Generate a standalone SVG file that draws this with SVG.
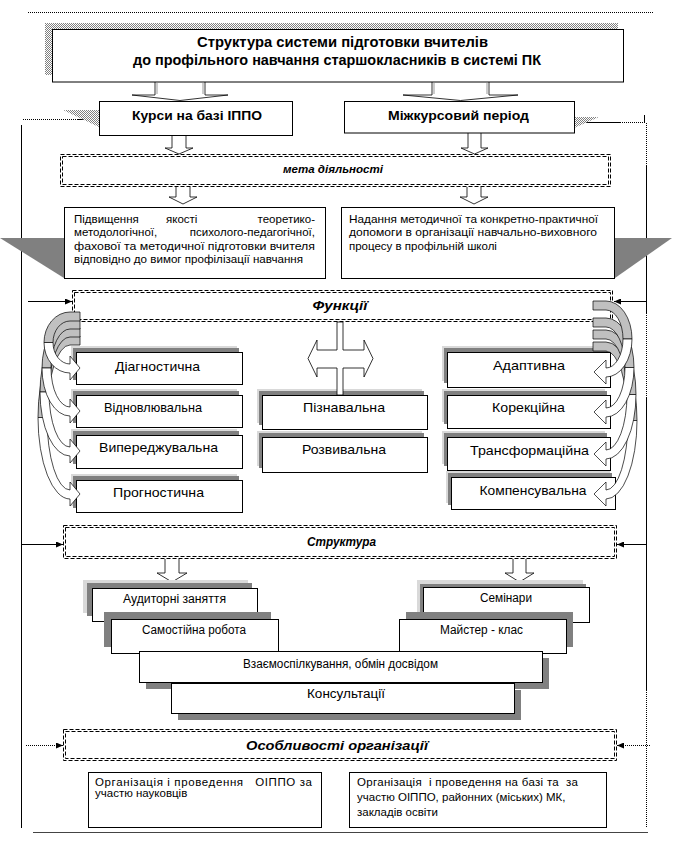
<svg xmlns="http://www.w3.org/2000/svg" width="681" height="847" viewBox="0 0 681 847">
<style>
.t{font-family:"Liberation Sans",Arial,sans-serif;fill:#000}
.b{font-weight:bold}
.bi{font-weight:bold;font-style:italic}
.f13{font-size:13px}
.f12{font-size:12px}
.f11{font-size:11.5px}
.box{fill:#fff;stroke:#000;stroke-width:1}
.dg{fill:#808080}
.lg{fill:#d9d9d9}
.dash{fill:none;stroke:#000;stroke-width:1;stroke-dasharray:4 2}
.ln{stroke:#000;stroke-width:1;fill:none}
.dot{stroke:#000;stroke-width:1;fill:none;stroke-dasharray:1 1}
.arr{fill:#fff;stroke:#000;stroke-width:0.8}
.cg{fill:#c0c0c0;stroke:#000;stroke-width:0.7}
.cw{fill:#fff;stroke:#000;stroke-width:0.7}
.tri{fill:#808080}
</style>
<defs>
<pattern id="hatch" width="2" height="2" patternUnits="userSpaceOnUse">
<rect width="2" height="2" fill="#fff"/>
<rect width="1" height="1" fill="#808080"/>
<rect x="1" y="1" width="1" height="1" fill="#808080"/>
</pattern>
<marker id="ah" markerWidth="7" markerHeight="6" refX="7" refY="3" orient="auto" markerUnits="userSpaceOnUse">
<path d="M0,0 L7,3 L0,6 Z" fill="#000"/>
</marker>
</defs>

<g id="connectors">
<line class="dot" x1="28" y1="12.5" x2="653" y2="12.5"/>
<line class="dot" x1="23" y1="119.5" x2="77" y2="119.5"/>
<line class="ln" x1="77" y1="119.5" x2="99" y2="119.5"/>
<line class="ln" x1="21.5" y1="125" x2="21.5" y2="828"/>
<line class="ln" x1="578" y1="122.5" x2="620" y2="122.5"/>
<line class="dot" x1="620" y1="122.5" x2="644" y2="122.5"/>
<line class="ln" x1="644.5" y1="115" x2="644.5" y2="123"/>
<line class="dot" x1="646.5" y1="123" x2="646.5" y2="165"/>
<line class="ln" x1="646.5" y1="165" x2="646.5" y2="313"/>
<line class="dot" x1="646.5" y1="313" x2="646.5" y2="398"/>
<line class="ln" x1="646.5" y1="398" x2="646.5" y2="690"/>
<line class="dot" x1="646.5" y1="690" x2="646.5" y2="828"/>
<line x1="33" y1="832.5" x2="648" y2="832.5" stroke="#444" stroke-width="1"/>
<line class="ln" x1="28" y1="301.5" x2="72" y2="301.5" marker-end="url(#ah)"/>
<line class="ln" x1="647" y1="301.5" x2="614" y2="301.5" marker-end="url(#ah)"/>
<line class="ln" x1="22" y1="544.5" x2="63" y2="544.5" marker-end="url(#ah)"/>
<line class="ln" x1="647" y1="544.5" x2="617" y2="544.5" marker-end="url(#ah)"/>
<line class="dot" x1="26" y1="745.5" x2="63" y2="745.5" marker-end="url(#ah)"/>
<line class="dot" x1="650" y1="745.5" x2="617" y2="745.5" marker-end="url(#ah)"/>
<path class="arr" d="M155,82 L155,95 L132,95 L180,100.5 L228,95 L205,95 L205,82"/>
<path class="arr" d="M432,82 L432,95 L403,95 L460.5,100.5 L518,95 L489,95 L489,82"/>
<line x1="157" y1="83" x2="157" y2="94" stroke="#999"/>
<line x1="203" y1="83" x2="203" y2="94" stroke="#999"/>
<line x1="434" y1="83" x2="434" y2="94" stroke="#999"/>
<line x1="487" y1="83" x2="487" y2="94" stroke="#999"/>
<path class="arr" d="M172,136 L172,148 L165,148 L179,154 L193,148 L186,148 L186,136"/>
<path class="arr" d="M468,133 L468,148 L461,148 L474.5,154 L488,148 L481,148 L481,133"/>
<path class="arr" d="M176,187 L176,197 L169,197 L183,204 L197,197 L190,197 L190,187"/>
<path class="arr" d="M467,187 L467,197 L460,197 L474,204 L488,197 L481,197 L481,187"/>
<path class="arr" d="M165,559 L165,573 L157,573 L172,582 L187,573 L179,573 L179,559"/>
<path class="arr" d="M513,559 L513,573 L505,573 L519.5,582 L534,573 L526,573 L526,559"/>
</g>

<g id="title">
<rect x="45" y="23" width="573" height="52" fill="url(#hatch)"/>
<rect class="box" x="52.5" y="29.5" width="571" height="52.5"/>
<text class="t b" font-size="14" x="342.5" y="47" text-anchor="middle" textLength="291" lengthAdjust="spacingAndGlyphs">Структура системи підготовки вчителів</text>
<text class="t b" font-size="14" x="337" y="65" text-anchor="middle" textLength="408" lengthAdjust="spacingAndGlyphs">до профільного навчання старшокласників в системі ПК</text>
</g>

<g id="kursy">
<polygon points="63,110 99,110 99,127" fill="url(#hatch)"/>
<rect class="box" x="99.5" y="101.5" width="193" height="34"/>
<text class="t b" font-size="13.5" x="197" y="120" text-anchor="middle" textLength="130" lengthAdjust="spacingAndGlyphs">Курси на базі ІППО</text>
</g>

<g id="mizhkurs">
<polygon points="574,117 599,117 574,128" fill="url(#hatch)"/>
<rect class="box" x="344.5" y="101.5" width="230" height="31.5"/>
<text class="t b" font-size="13.5" x="458.5" y="120" text-anchor="middle" textLength="141" lengthAdjust="spacingAndGlyphs">Міжкурсовий період</text>
</g>

<g id="meta">
<rect class="dash" x="60.5" y="154.5" width="550" height="32"/>
<rect class="dash" x="62.5" y="156.5" width="546" height="28"/>
<text class="t bi" font-size="11.5" x="333" y="173" text-anchor="middle" textLength="100" lengthAdjust="spacingAndGlyphs">мета діяльності</text>
</g>

<g id="triangles">
<polygon class="tri" points="0,238 64,238 64,278"/>
<polygon class="tri" points="615,238 672,238 615,278"/>
</g>

<g id="meta-left">
<rect class="box" x="64.5" y="207.5" width="261" height="71"/>
<text class="t f11" x="74" y="223">Підвищення</text>
<text class="t f11" x="166" y="223">якості</text>
<text class="t f11" x="315" y="223" text-anchor="end">теоретико-</text>
<text class="t f11" x="74" y="236">методологічної,</text>
<text class="t f11" x="315" y="236" text-anchor="end">психолого-педагогічної,</text>
<text class="t f11" x="74" y="250" textLength="241" lengthAdjust="spacingAndGlyphs">фахової та методичної підготовки вчителя</text>
<text class="t f11" x="74" y="263" textLength="229" lengthAdjust="spacingAndGlyphs">відповідно до вимог профілізації навчання</text>
</g>

<g id="meta-right">
<rect class="box" x="341.5" y="207.5" width="273" height="71"/>
<text class="t f11" x="349" y="223" textLength="249" lengthAdjust="spacingAndGlyphs">Надання методичної та конкретно-практичної</text>
<text class="t f11" x="349" y="236" textLength="248" lengthAdjust="spacingAndGlyphs">допомоги в організації навчально-виховного</text>
<text class="t f11" x="349" y="250">процесу в профільній школі</text>
</g>

<g id="funktsii">
<rect class="dash" x="72.5" y="290.5" width="540" height="31"/>
<rect class="dash" x="74.5" y="292.5" width="536" height="27"/>
<text class="t bi" font-size="12" x="340" y="310" text-anchor="middle" textLength="55" lengthAdjust="spacingAndGlyphs">Функції</text>
</g>

<g id="diagnostychna">
<rect class="lg" x="71" y="346" width="166" height="32"/>
<rect class="dg" x="73" y="348" width="166" height="32"/>
<rect class="box" x="76.5" y="352.5" width="166" height="32"/>
<text class="t f13" x="157.5" y="371" text-anchor="middle" textLength="85" lengthAdjust="spacingAndGlyphs">Діагностична</text>
</g>
<g id="vidnovlyuvalna">
<rect class="lg" x="71" y="389" width="166" height="32"/>
<rect class="dg" x="73" y="391" width="166" height="32"/>
<rect class="box" x="76.5" y="395.5" width="166" height="32"/>
<text class="t f13" x="153" y="412" text-anchor="middle" textLength="98" lengthAdjust="spacingAndGlyphs">Відновлювальна</text>
</g>
<g id="vyperedzhuvalna">
<rect class="lg" x="71" y="429" width="166" height="33"/>
<rect class="dg" x="73" y="431" width="166" height="33"/>
<rect class="box" x="76.5" y="435.5" width="166" height="33"/>
<text class="t f13" x="158.5" y="452" text-anchor="middle" textLength="119" lengthAdjust="spacingAndGlyphs">Випереджувальна</text>
</g>
<g id="prognostychna">
<rect class="lg" x="71" y="474" width="166" height="32"/>
<rect class="dg" x="73" y="476" width="166" height="32"/>
<rect class="box" x="76.5" y="480.5" width="166" height="32"/>
<text class="t f13" x="158.5" y="497" text-anchor="middle" textLength="91" lengthAdjust="spacingAndGlyphs">Прогностична</text>
</g>

<g id="piznavalna">
<rect class="lg" x="257" y="389" width="165" height="34"/>
<rect class="dg" x="259" y="391" width="165" height="34"/>
<rect class="box" x="262.5" y="395.5" width="165" height="34"/>
<text class="t f13" x="344" y="412" text-anchor="middle" textLength="82" lengthAdjust="spacingAndGlyphs">Пізнавальна</text>
</g>
<g id="rozvyvalna">
<rect class="lg" x="257" y="431" width="165" height="35"/>
<rect class="dg" x="259" y="433" width="165" height="35"/>
<rect class="box" x="262.5" y="437.5" width="165" height="35"/>
<text class="t f13" x="344" y="454" text-anchor="middle" textLength="84" lengthAdjust="spacingAndGlyphs">Розвивальна</text>
</g>

<g id="adaptyvna">
<rect class="lg" x="442" y="346" width="163" height="35"/>
<rect class="dg" x="444" y="348" width="163" height="35"/>
<rect class="box" x="447.5" y="352.5" width="163" height="35"/>
<text class="t f13" x="529" y="370" text-anchor="middle" textLength="72" lengthAdjust="spacingAndGlyphs">Адаптивна</text>
</g>
<g id="korektsiyna">
<rect class="lg" x="442" y="389" width="163" height="33"/>
<rect class="dg" x="444" y="391" width="163" height="33"/>
<rect class="box" x="447.5" y="395.5" width="163" height="33"/>
<text class="t f13" x="528.5" y="412" text-anchor="middle" textLength="73" lengthAdjust="spacingAndGlyphs">Корекційна</text>
</g>
<g id="transformatsiyna">
<rect class="lg" x="442" y="431" width="163" height="33"/>
<rect class="dg" x="444" y="433" width="163" height="33"/>
<rect class="box" x="447.5" y="437.5" width="163" height="33"/>
<text class="t f13" x="529.5" y="455" text-anchor="middle" textLength="119" lengthAdjust="spacingAndGlyphs">Трансформаційна</text>
</g>
<g id="kompensuvalna">
<rect class="lg" x="446" y="471" width="164" height="32"/>
<rect class="dg" x="448" y="473" width="164" height="32"/>
<rect class="box" x="451.5" y="477.5" width="164" height="32"/>
<text class="t f13" x="533" y="495" text-anchor="middle" textLength="107" lengthAdjust="spacingAndGlyphs">Компенсувальна</text>
</g>

<g id="cross-arrow">
<path class="arr" d="M308,358.5 L317,340 L317,350 L337,350 L337,322 L343,322 L343,350 L364,350 L364,340 L373,358.5 L364,377 L364,368 L343,368 L343,395 L337,395 L337,368 L317,368 L317,377 Z"/>
</g>

<g id="curved-left">
<path class="cg" d="M80,336 L70,336 A32,81.5 0 0 0 38,417.5 L47,417.5 A23,72.5 0 0 1 70,345 L80,345 Z"/>
<path class="cw" d="M38,417.5 A32,81.5 0 0 0 70,499 L70,506 L80,494 L70,482 L70,490 A23,72.5 0 0 1 47,417.5 Z"/>
<path class="cg" d="M80,328 L70,328 A30,64 0 0 0 40,392 L49,392 A21,55 0 0 1 70,337 L80,337 Z"/>
<path class="cw" d="M40,392 A30,64 0 0 0 70,456 L70,463 L80,451 L70,439 L70,447 A21,55 0 0 1 49,392 Z"/>
<path class="cg" d="M80,320 L70,320 A28,48 0 0 0 42,368 L51,368 A19,39 0 0 1 70,329 L80,329 Z"/>
<path class="cw" d="M42,368 A28,48 0 0 0 70,416 L70,423 L80,411 L70,399 L70,407 A19,39 0 0 1 51,368 Z"/>
<path class="cg" d="M80,312 L70,312 A26,30.5 0 0 0 44,342.5 L53,342.5 A17,21.5 0 0 1 70,321 L80,321 Z"/>
<path class="cw" d="M44,342.5 A26,30.5 0 0 0 70,373 L70,380 L80,368 L70,356 L70,364 A17,21.5 0 0 1 53,342.5 Z"/>
</g>

<g id="curved-right">
<path class="cg" d="M593,342 L606,342 A31,78.5 0 0 1 637,420.5 L628,420.5 A22,69.5 0 0 0 606,351 L593,351 Z"/>
<path class="cw" d="M637,420.5 A31,78.5 0 0 1 606,499 L606,506 L594,494 L606,482 L606,490 A22,69.5 0 0 0 628,420.5 Z"/>
<path class="cg" d="M593,330 L606,330 A30,64.5 0 0 1 636,394.5 L627,394.5 A21,55.5 0 0 0 606,339 L593,339 Z"/>
<path class="cw" d="M636,394.5 A30,64.5 0 0 1 606,459 L606,466 L594,454 L606,442 L606,450 A21,55.5 0 0 0 627,394.5 Z"/>
<path class="cg" d="M593,318 L606,318 A28,49.5 0 0 1 634,367.5 L625,367.5 A19,40.5 0 0 0 606,327 L593,327 Z"/>
<path class="cw" d="M634,367.5 A28,49.5 0 0 1 606,417 L606,424 L594,412 L606,400 L606,408 A19,40.5 0 0 0 625,367.5 Z"/>
<path class="cg" d="M593,301 L606,301 A26,38 0 0 1 632,339 L623,339 A17,29 0 0 0 606,310 L593,310 Z"/>
<path class="cw" d="M632,339 A26,38 0 0 1 606,377 L606,384 L594,372 L606,360 L606,368 A17,29 0 0 0 623,339 Z"/>
</g>

<g id="struktura">
<rect class="dash" x="63.5" y="525.5" width="553" height="33"/>
<rect class="dash" x="65.5" y="527.5" width="549" height="29"/>
<text class="t bi" font-size="12" x="341.5" y="546" text-anchor="middle" textLength="69" lengthAdjust="spacingAndGlyphs">Структура</text>
</g>

<g id="audytorni">
<rect class="lg" x="83" y="580" width="165" height="33"/>
<rect class="dg" x="87" y="583" width="165" height="33"/>
<rect class="box" x="92.5" y="588.5" width="165" height="33"/>
<text class="t f12" x="174.5" y="603" text-anchor="middle" textLength="103" lengthAdjust="spacingAndGlyphs">Аудиторні заняття</text>
</g>
<g id="samostiyna">
<rect class="dg" x="104" y="612" width="167" height="35"/>
<rect class="box" x="111.5" y="619.5" width="167" height="34"/>
<text class="t f12" x="194" y="634" text-anchor="middle" textLength="104" lengthAdjust="spacingAndGlyphs">Самостійна робота</text>
</g>
<g id="seminary">
<rect class="lg" x="417" y="580" width="166" height="35"/>
<rect class="dg" x="420" y="584" width="166" height="35"/>
<rect class="box" x="423.5" y="587.5" width="166" height="35"/>
<text class="t f12" x="506" y="602" text-anchor="middle" textLength="52" lengthAdjust="spacingAndGlyphs">Семінари</text>
</g>
<g id="mayster">
<rect class="dg" x="406" y="612" width="167" height="35"/>
<rect class="box" x="399.5" y="619.5" width="167" height="34"/>
<text class="t f12" x="481.5" y="634" text-anchor="middle" textLength="83" lengthAdjust="spacingAndGlyphs">Майстер - клас</text>
</g>
<g id="vzayemo">
<rect class="dg" x="146" y="658" width="403" height="31"/>
<rect class="box" x="139.5" y="651.5" width="403" height="31"/>
<text class="t f12" x="340.5" y="667.5" text-anchor="middle" textLength="195" lengthAdjust="spacingAndGlyphs">Взаємоспілкування, обмін досвідом</text>
</g>
<g id="konsultatsii">
<rect class="dg" x="178" y="690" width="343" height="30"/>
<rect class="box" x="171.5" y="683.5" width="343" height="30"/>
<text class="t f12" x="346" y="698" text-anchor="middle" textLength="78" lengthAdjust="spacingAndGlyphs">Консультації</text>
</g>

<g id="osoblyvosti">
<rect class="dash" x="63.5" y="729.5" width="553" height="31"/>
<rect class="dash" x="65.5" y="731.5" width="549" height="27"/>
<text class="t bi" font-size="13" x="337" y="749.5" text-anchor="middle" textLength="182" lengthAdjust="spacingAndGlyphs">Особливості організації</text>
</g>

<g id="org-left">
<rect class="box" x="88.5" y="772.5" width="233" height="55"/>
<text class="t f11" x="95" y="786" textLength="217" lengthAdjust="spacing" xml:space="preserve">Організація і проведення   ОІППО за</text>
<text class="t f11" x="95" y="797">участю науковців</text>
</g>
<g id="org-right">
<rect class="box" x="349.5" y="772.5" width="257" height="55"/>
<text class="t f11" x="357" y="786" textLength="221" lengthAdjust="spacing" xml:space="preserve">Організація  і проведення на базі та  за</text>
<text class="t f11" x="357" y="801">участю ОІППО, районних (міських) МК,</text>
<text class="t f11" x="357" y="816">закладів освіти</text>
</g>
</svg>
